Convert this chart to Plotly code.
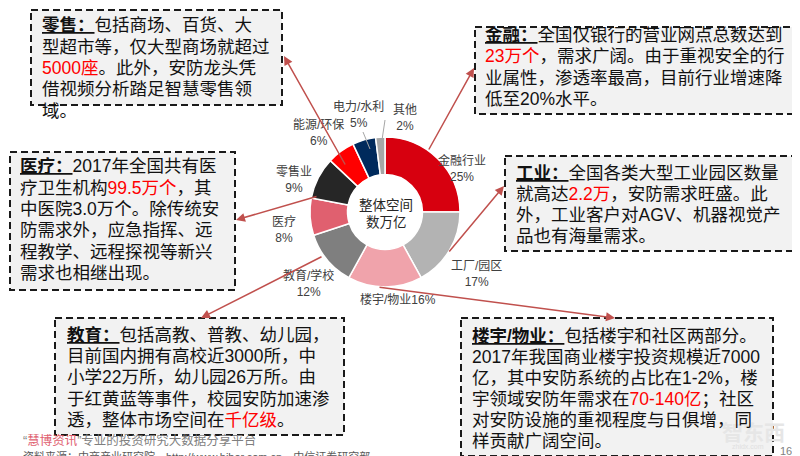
import plotly.graph_objects as go

W, H = 800, 456

# ---------------- data ----------------
categories = ["金融行业", "工厂/园区", "楼宇/物业", "教育/学校", "医疗", "零售业", "能源/环保", "电力/水利", "其他"]
shares = [25, 17, 16, 12, 8, 9, 6, 5, 2]
slice_colors = ["#d7000f", "#b3b3b3", "#f0a3ab", "#7f7f7f", "#e0606f", "#262626", "#ff0000", "#002a5c", "#a6a6a6"]
label_breaks = ["<br>", "<br>", "", "<br>", "<br>", "<br>", "<br>", "<br>", "<br>"]
center_text = ["整体空间", "数万亿"]

RED = "#ff0000"
def r(t):
    return f"<span style='color:{RED}'>{t}</span>"
def title(t):
    return f"<b><u>{t}</u></b>"

box_retail = [title("零售：") + "包括商场、百货、大", "型超市等，仅大型商场就超过",
              r("5000座") + "。此外，安防龙头凭", "借视频分析踏足智慧零售领", "域。"]
box_finance = [title("金融：") + "全国仅银行的营业网点总数达到", r("23万个") + "，需求广阔。由于重视安全的行",
               "业属性，渗透率最高，目前行业增速降", "低至20%水平。"]
box_medical = [title("医疗：") + "2017年全国共有医", "疗卫生机构" + r("99.5万个") + "，其",
               "中医院3.0万个。除传统安", "防需求外，应急指挥、远", "程教学、远程探视等新兴", "需求也相继出现。"]
box_industry = [title("工业：") + "全国各类大型工业园区数量", "就高达" + r("2.2万") + "，安防需求旺盛。此",
                "外，工业客户对AGV、机器视觉产", "品也有海量需求。"]
box_education = [title("教育：") + "包括高教、普教、幼儿园，", "目前国内拥有高校近3000所，中",
                 "小学22万所，幼儿园26万所。由", "于红黄蓝等事件，校园安防加速渗",
                 "透，整体市场空间在" + r("千亿级") + "。"]
box_building = [title("楼宇/物业：") + "包括楼宇和社区两部分。", "2017年我国商业楼宇投资规模近7000",
                "亿，其中安防系统的占比在1-2%，楼", "宇领域安防年需求在" + r("70-140亿") + "；社区",
                "对安防设施的重视程度与日俱增，同", "样贡献广阔空间。"]

footer_brand = "慧博资讯"
footer_text = "专业的投资研究大数据分享平台"
source_text = "资料来源：中商产业研究院，http://www.hibor.com.cn，中信证券研究部"

# ---------------- layout helpers ----------------
def px(x):
    return x / W
def py(y):
    return 1 - y / H

FONT = "Arial, 'Liberation Sans', 'Noto Sans CJK SC', sans-serif"

cx, cy, rad = 377, 204, 75

fig = go.Figure()
fig.add_trace(go.Pie(
    labels=categories, values=shares, sort=False, direction="clockwise", rotation=0,
    hole=0.5, textinfo="none", hoverinfo="label+percent",
    marker=dict(colors=slice_colors, line=dict(color="white", width=1.5)),
    domain=dict(x=[px(cx - rad), px(cx + rad)], y=[py(cy + rad), py(cy - rad)]),
    showlegend=False,
))

shapes = []
annotations = []

# slice labels
label_pos = {"金融行业": (454, 160), "工厂/园区": (468, 266), "楼宇/物业": (390, 291),
             "教育/学校": (300, 275), "医疗": (276, 222), "零售业": (286, 171),
             "能源/环保": (310, 125), "电力/水利": (350, 107), "其他": (397, 110)}
for c, v, b in zip(categories, shares, label_breaks):
    x, y = label_pos[c]
    annotations.append(dict(x=px(x), y=py(y), xref="paper", yref="paper", showarrow=False,
                            text=f"{c}{b}{v}%", font=dict(size=12, color="#404040", family=FONT),
                            xanchor="center", yanchor="middle", align="center"))

# small leader lines
shapes.append(dict(type="line", xref="paper", yref="paper", x0=px(377), y0=py(112), x1=px(374), y1=py(132),
                   line=dict(color="#a6a6a6", width=1)))
shapes.append(dict(type="line", xref="paper", yref="paper", x0=px(355), y0=py(124), x1=px(362), y1=py(141),
                   line=dict(color="#a6a6a6", width=1)))

# center text
for t, y in zip(center_text, [197, 214]):
    annotations.append(dict(x=px(cx + 1), y=py(y), xref="paper", yref="paper", showarrow=False, text=t,
                            font=dict(size=13.5, color="#262626", family=FONT), xanchor="center", yanchor="middle"))

# arrows (head, tail)
ARROW = "#c0504d"
arrows = [((276, 48), (338, 158)), ((466, 60), (420, 143)), ((228, 212), (310, 188)),
          ((193, 310), (315, 248)), ((496, 178), (440, 245)), ((607, 310), (370, 279))]
for (hx, hy), (tx, ty) in arrows:
    annotations.append(dict(x=px(hx), y=py(hy), xref="paper", yref="paper", text="", showarrow=True,
                            ax=tx - hx, ay=ty - hy, axref="pixel", ayref="pixel",
                            arrowcolor=ARROW, arrowwidth=1.5, arrowhead=2, arrowsize=1.2, standoff=0))

# watermark (behind box text)
annotations.append(dict(x=px(745), y=py(424), xref="paper", yref="paper", showarrow=False, text="<b>智东西</b>",
                        font=dict(size=21, color="#e6e6e6", family=FONT), xanchor="center", yanchor="middle"))
annotations.append(dict(x=px(740), y=py(438), xref="paper", yref="paper", showarrow=False, text="zhidx.com",
                        font=dict(size=7, color="#e0e0e0", family=FONT), xanchor="center", yanchor="middle"))

# text boxes: (rect, text left, line ys, lines)
boxes = [
    ((23, 2, 274, 97), 32, [17, 39, 60, 81, 103], box_retail),
    ((467, 19, 792, 106), 475, [27, 48, 70, 91], box_finance),
    ((2, 144, 227, 282), 10, [158, 180, 201, 222, 244, 265], box_medical),
    ((497, 148, 786, 243), 506, [165, 186, 207, 228], box_industry),
    ((47, 310, 336, 427), 57, [327, 348, 369, 391, 412], box_education),
    ((453, 310, 765, 448), 462, [328, 349, 370, 391, 412, 433], box_building),
]
for (x0, y0, x1, y1), tx, ys, lines in boxes:
    shapes.append(dict(type="rect", xref="paper", yref="paper", x0=px(x0), y0=py(y0), x1=px(x1), y1=py(y1),
                       fillcolor="#f2f2f2", line=dict(color="#1a1a1a", width=2, dash="7px,4px"), layer="below"))
    for t, y in zip(lines, ys):
        annotations.append(dict(x=px(tx), y=py(y), xref="paper", yref="paper", showarrow=False, text=t,
                                font=dict(size=17.5, color="#111111", family=FONT),
                                xanchor="left", yanchor="middle", align="left"))

# footer
annotations.append(dict(x=px(13), y=py(432), xref="paper", yref="paper", showarrow=False,
                        text=f"“<span style='color:#e0606f'>{footer_brand}</span>”{footer_text}",
                        font=dict(size=12.5, color="#7f7f7f", family=FONT), xanchor="left", yanchor="middle"))
annotations.append(dict(x=px(13), y=py(448), xref="paper", yref="paper", showarrow=False, text=source_text,
                        font=dict(size=11, color="#595959", family=FONT), xanchor="left", yanchor="middle"))
annotations.append(dict(x=px(778), y=py(443), xref="paper", yref="paper", showarrow=False, text="16",
                        font=dict(size=11, color="#7f7f7f", family=FONT), xanchor="center", yanchor="middle"))

fig.update_layout(width=W, height=H, margin=dict(l=0, r=0, t=0, b=0),
                  paper_bgcolor="white", plot_bgcolor="white",
                  shapes=shapes, annotations=annotations, showlegend=False)

fig.write_html("out.html")
